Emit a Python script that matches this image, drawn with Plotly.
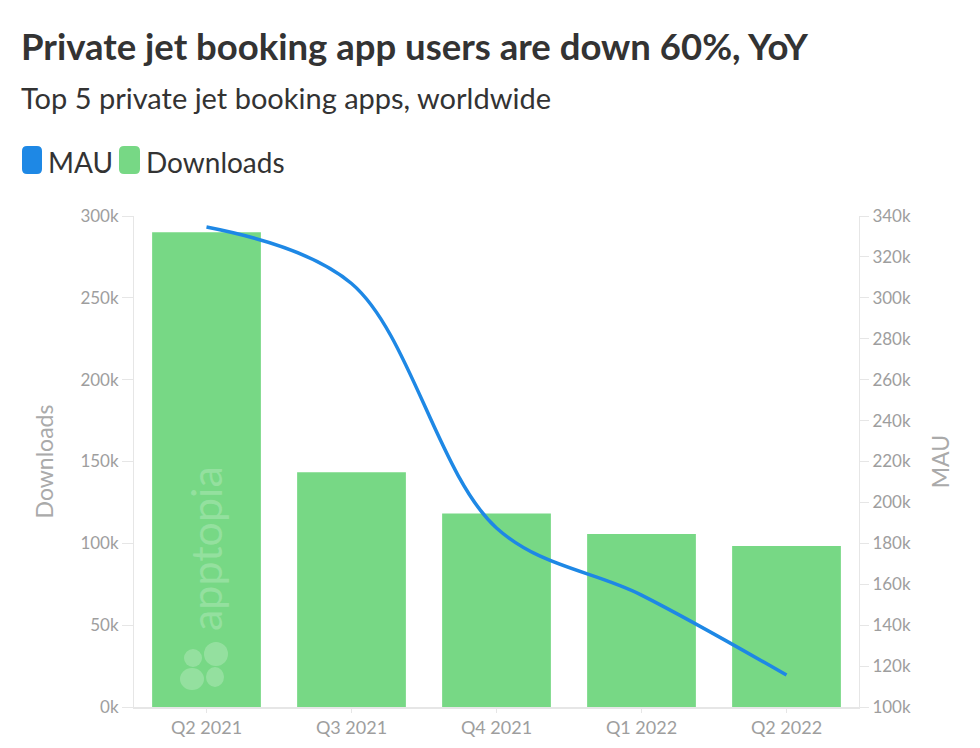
import plotly.graph_objects as go

quarters = ["Q2 2021", "Q3 2021", "Q4 2021", "Q1 2022", "Q2 2022"]
downloads = [290000, 143500, 118300, 105700, 98400]
mau = [334600, 307000, 187500, 154700, 115600]

left_tick_vals = [0, 50000, 100000, 150000, 200000, 250000, 300000]
left_tick_text = ["0k", "50k", "100k", "150k", "200k", "250k", "300k"]
right_tick_vals = [100000, 120000, 140000, 160000, 180000, 200000, 220000,
                   240000, 260000, 280000, 300000, 320000, 340000]
right_tick_text = ["100k", "120k", "140k", "160k", "180k", "200k", "220k",
                   "240k", "260k", "280k", "300k", "320k", "340k"]

BAR = "#77D885"
LINE = "#1E88E5"
GRAY = "#9e9e9e"
AXIS = "#e6e6e6"
FONT = "Lato"

# page has an 8px body margin; plot area target (page px): x 134..859, y 216..707
OFF = 8
W, H = 980 - 2 * OFF, 748 - 2 * OFF
PL, PR, PT, PB = 134, 859, 216, 707
ML, MT = PL - OFF, PT - OFF
MR, MB = W - (PR - OFF), H - (PB - OFF)
PW, PH = PR - PL, PB - PT


def px(x):
    return (x - PL) / PW


def py(y):
    return (PB - y) / PH


fig = go.Figure()
fig.add_trace(go.Bar(x=quarters, y=downloads, name="Downloads", marker_color=BAR,
                     marker_line_width=0, width=0.75, yaxis="y"))
fig.add_trace(go.Scatter(x=quarters, y=mau, name="MAU", mode="lines",
                         line=dict(color=LINE, width=3.5, shape="spline", smoothing=1.0),
                         yaxis="y2"))

shapes = []
annotations = []


def rounded_rect(x0, y0, x1, y1, r, color):
    path = (f"M {px(x0 + r)} {py(y0)} L {px(x1 - r)} {py(y0)} "
            f"Q {px(x1)} {py(y0)} {px(x1)} {py(y0 + r)} L {px(x1)} {py(y1 - r)} "
            f"Q {px(x1)} {py(y1)} {px(x1 - r)} {py(y1)} L {px(x0 + r)} {py(y1)} "
            f"Q {px(x0)} {py(y1)} {px(x0)} {py(y1 - r)} L {px(x0)} {py(y0 + r)} "
            f"Q {px(x0)} {py(y0)} {px(x0 + r)} {py(y0)} Z")
    return dict(type="path", path=path, xref="paper", yref="paper",
                fillcolor=color, line=dict(width=0), layer="above")


# custom legend
shapes.append(rounded_rect(22, 146, 42, 174, 5, LINE))
shapes.append(rounded_rect(119, 146, 140, 174, 5, BAR))
annotations.append(dict(text="MAU", x=px(46), y=py(162), xref="paper", yref="paper",
                        xanchor="left", yanchor="middle", showarrow=False,
                        font=dict(family=FONT, size=28, color="#333333")))
annotations.append(dict(text="Downloads", x=px(144), y=py(162), xref="paper", yref="paper",
                        xanchor="left", yanchor="middle", showarrow=False,
                        font=dict(family=FONT, size=28, color="#333333")))

# title and subtitle
annotations.append(dict(text="<b>Private jet booking app users are down 60%, YoY</b>",
                        x=px(19), y=py(46), xref="paper", yref="paper",
                        xanchor="left", yanchor="middle", showarrow=False,
                        font=dict(family=FONT, size=36.5, color="#333333")))
annotations.append(dict(text="Top 5 private jet booking apps, worldwide",
                        x=px(19), y=py(98), xref="paper", yref="paper",
                        xanchor="left", yanchor="middle", showarrow=False,
                        font=dict(family=FONT, size=29, color="#333333")))

# watermark
annotations.append(dict(text="apptopia", x=px(205), y=py(549), xref="paper", yref="paper",
                        xanchor="center", yanchor="middle", showarrow=False, textangle=-90,
                        font=dict(family=FONT, size=43, color="rgba(255,255,255,0.22)")))
for cx, cy, rx, ry in [(193, 658, 9, 9), (216, 654, 12, 12), (192, 679, 12, 11), (215, 677, 9, 10)]:
    shapes.append(dict(type="circle", xref="paper", yref="paper",
                       x0=px(cx - rx), x1=px(cx + rx), y0=py(cy + ry), y1=py(cy - ry),
                       fillcolor="rgba(255,255,255,0.22)", line=dict(width=0), layer="above"))

fig.update_layout(
    width=W, height=H,
    margin=dict(l=ML, r=MR, t=MT, b=MB, pad=0, autoexpand=False),
    paper_bgcolor="white", plot_bgcolor="white",
    showlegend=False,
    bargap=0.25,
    font=dict(family=FONT, color=GRAY, size=17),
    xaxis=dict(showgrid=False, showline=True, linecolor=AXIS, linewidth=1.5,
               ticks="outside", ticklen=4, tickcolor=AXIS, automargin=False,
               tickfont=dict(family=FONT, size=18, color=GRAY), range=[-0.5, 4.5]),
    yaxis=dict(range=[0, 300000], tickvals=left_tick_vals, ticktext=left_tick_text,
               showgrid=False, zeroline=False, showline=True, linecolor=AXIS, linewidth=1,
               ticks="outside", ticklen=11, tickcolor=AXIS, automargin=False,
               tickfont=dict(family=FONT, size=17, color=GRAY),
               title=dict(text="Downloads", font=dict(family=FONT, size=23, color="#aaaaaa"),
                          standoff=20)),
    yaxis2=dict(range=[100000, 340000], tickvals=right_tick_vals, ticktext=right_tick_text,
                overlaying="y", side="right", automargin=False,
                showgrid=False, zeroline=False, showline=True, linecolor=AXIS, linewidth=1,
                ticks="outside", ticklen=9, tickcolor=AXIS,
                tickfont=dict(family=FONT, size=17, color=GRAY),
                title=dict(text="MAU", font=dict(family=FONT, size=23, color="#aaaaaa"),
                           standoff=22)),
    shapes=shapes,
    annotations=annotations,
)

fig.write_html("out.html")
